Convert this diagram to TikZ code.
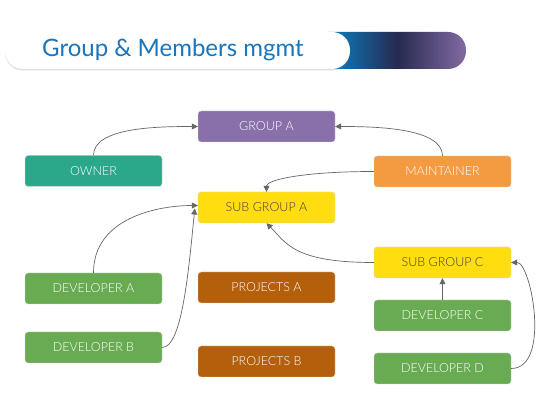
\documentclass[tikz,border=0pt]{standalone}
\usepackage{fontspec}
\setmainfont{Lato}[UprightFont=* Light]
\newfontfamily\titlefont{Lato}
\usetikzlibrary{arrows.meta,shadows}
\definecolor{cpurple}{HTML}{8A70AA}
\definecolor{cteal}{HTML}{2BA889}
\definecolor{corange}{HTML}{F49B42}
\definecolor{cyellow}{HTML}{FFDD0F}
\definecolor{cgreen}{HTML}{68AB52}
\definecolor{cbrown}{HTML}{B35F0B}
\definecolor{ctitle}{HTML}{1B75BB}
\definecolor{cline}{HTML}{666666}
\definecolor{cnavy}{HTML}{262A50}
\definecolor{cblue}{HTML}{0A80C4}
\tikzset{
  box/.style={rounded corners=3pt, minimum width=137pt, minimum height=31pt, inner sep=0pt,
    font=\fontsize{12.5}{14}\selectfont, text=white, draw=white!85!black, line width=0.4pt},
  ybox/.style={box, fill=cyellow, text=black!75},
  conn/.style={draw=cline, line width=0.7pt, -{Triangle[length=6pt,width=6pt]}},
}
\begin{document}
\begin{tikzpicture}[x=1pt,y=-1pt]
\useasboundingbox (0,0) rectangle (558,403);
\fill[white] (0,0) rectangle (558,403);
% title
\begin{scope}
\clip[rounded corners=18pt] (300,32) rectangle (466,69);
\shade[left color=cblue, right color=cpurple!95!black, middle color=cnavy] (328,32) rectangle (466,69);
\fill[cblue] (300,32) rectangle (328.5,69);
\end{scope}
\node[draw=none, fill=white, rounded corners=18pt, minimum width=345pt, minimum height=37pt, inner sep=0pt,
  drop shadow={shadow xshift=0pt, shadow yshift=-1.5pt, opacity=0.25}] (titlebox) at (177.5,50.5) {};
\node[text=ctitle, font=\titlefont\fontsize{24}{28}\selectfont, anchor=west, inner sep=0pt] (title) at (42,50) {Group \& Members mgmt};
% nodes
\node[box, fill=cpurple] (ga) at (266.5,126.5) {GROUP A};
\node[box, fill=cteal] (own) at (93.5,171) {OWNER};
\node[box, fill=corange] (mnt) at (442.5,171.5) {MAINTAINER};
\node[ybox] (sga) at (266.5,207.5) {SUB GROUP A};
\node[ybox] (sgc) at (442.5,262.5) {SUB GROUP C};
\node[box, fill=cgreen] (devc) at (442.5,315.5) {DEVELOPER C};
\node[box, fill=cgreen] (devd) at (442.5,368.5) {DEVELOPER D};
\node[box, fill=cgreen] (deva) at (93.5,288.5) {DEVELOPER A};
\node[box, fill=cgreen] (devb) at (93.5,347.5) {DEVELOPER B};
\node[box, fill=cbrown] (pa) at (266.5,287.5) {PROJECTS A};
\node[box, fill=cbrown] (pb) at (266.5,361.5) {PROJECTS B};
% connectors
\draw[conn] (own.north) .. controls +(0,-28) and +(-40,0) .. (ga.west);
\draw[conn] (mnt.north) .. controls +(0,-28) and +(40,0) .. (ga.east);
\draw[conn] (mnt.west) .. controls +(-70,0) and +(0,-12) .. (sga.north);
\draw[conn] (deva.north) .. controls +(0,-55) and +(-40,0) .. ([yshift=2pt]sga.west);
\draw[conn] (devb.east) .. controls +(20,0) and +(-6,60) .. ([xshift=-3pt,yshift=-1pt]sga.west);
\draw[conn] (sgc.west) .. controls +(-80,0) and +(20,20) .. (sga.south);
\draw[conn] (devc.north) -- (sgc.south);
\draw[conn] (devd.east) .. controls +(40,0) and +(20,0) .. (sgc.east);
\end{tikzpicture}
\end{document}
